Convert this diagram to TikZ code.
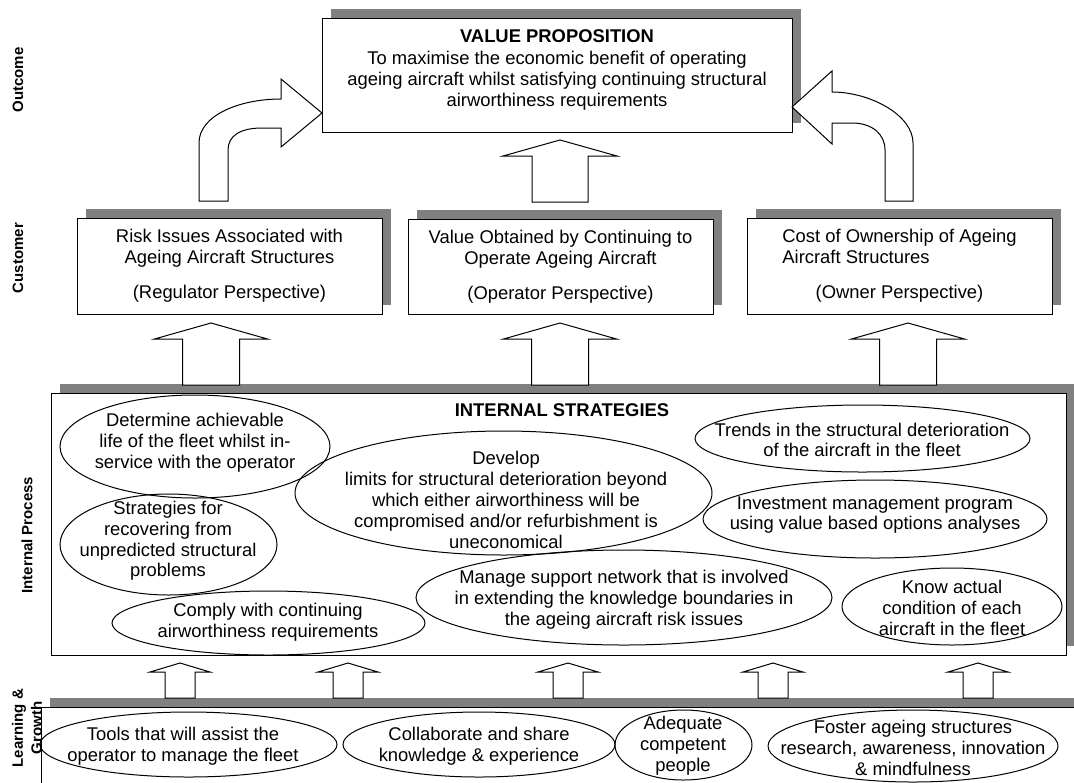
\documentclass[tikz,border=0pt]{standalone}
\usepackage{fontspec}
\setmainfont{Liberation Sans}
\usetikzlibrary{shadows,calc,shapes.geometric}
\definecolor{shgray}{RGB}{128,128,128}
\newcommand\blockup[5]{%
  \draw[blk] let \p1=(#1), \p2=(#2) in
    (\x1-#3,\y1) -- (\x1-#3,\y2-#5) -- (\x1-#4,\y2-#5) -- (\x2,\y2) --
    (\x1+#4,\y2-#5) -- (\x1+#3,\y2-#5) -- (\x1+#3,\y1) -- cycle;}
\begin{document}
\begin{tikzpicture}[x=0.5pt,y=-0.5pt,line width=0.5pt,
  every node/.style={font=\fontsize{9.2}{10.4}\selectfont},
  box/.style={draw,fill=white,rectangle,inner sep=0pt,align=center,
    drop shadow={shadow xshift=4.5pt,shadow yshift=4.5pt,opacity=1,fill=shgray}},
  txt/.style={align=center,inner sep=0pt},
  oval/.style={draw,ellipse,inner sep=0pt},
  side/.style={font=\fontsize{7.5}{9.5}\selectfont\bfseries,rotate=90,align=center,inner sep=0pt},
  blk/.style={draw,fill=white,line join=miter}]
\useasboundingbox (0,0) rectangle (1074,782);
\clip (0,0) rectangle (1074,782);

% side labels
\node[side] (lout) at (18,80) {Outcome};
\node[side] (lcus) at (18,258) {Customer};
\node[side] (lint) at (27,535) {Internal Process};

% value proposition
\node[box,minimum width=235pt,minimum height=57pt] (vp) at (557,75) {};
\node[txt] (vpt) at (557,70) {\textbf{VALUE PROPOSITION}\\[0.5pt]To maximise the economic benefit of operating\\ageing aircraft whilst satisfying continuing structural\\airworthiness requirements};

% customer boxes
\node[box,minimum width=152.5pt,minimum height=48pt] (risk) at (229.5,266)
  {Risk Issues Associated with\\Ageing Aircraft Structures\\[7pt](Regulator Perspective)};
\node[box,minimum width=152.5pt,minimum height=47.5pt] (valo) at (560.5,266.5)
  {Value Obtained by Continuing to\\Operate Ageing Aircraft\\[7pt](Operator Perspective)};
\node[box,minimum width=152.5pt,minimum height=48pt] (cost) at (899.5,266)
  {Cost of Ownership of Ageing\\\rlap{Aircraft Structures}\phantom{Cost of Ownership of Ageing}\\[7pt](Owner Perspective)};

% internal box
\node[box,minimum width=507.5pt,minimum height=131pt] (intl) at (558.5,524) {};
\node[txt] (intt) at (562,410) {\textbf{INTERNAL STRATEGIES}};

% learning box
\node[box,minimum width=550pt,minimum height=75pt] (lg) at (591,782) {};
\node[side] (llg) at (27,728) {Learning \&\\Growth};

% value arrow
\coordinate (v0) at (560,202); \coordinate (v1) at (560,140);
\blockup{v0}{v1}{14pt}{28.5pt}{8pt}

% customer arrows
\coordinate (c1b) at (211,385); \coordinate (c1t) at (211,323);
\coordinate (c2b) at (560,385); \coordinate (c2t) at (560,323);
\coordinate (c3b) at (908,385); \coordinate (c3t) at (908,323);
\blockup{c1b}{c1t}{14.25pt}{28.25pt}{8pt}
\blockup{c2b}{c2t}{14.25pt}{28.25pt}{8pt}
\blockup{c3b}{c3t}{14.25pt}{28.25pt}{8pt}

% learning arrows
\foreach \i/\xx in {1/180,2/348,3/568,4/773,5/978}{
  \coordinate (l\i b) at (\xx,698); \coordinate (l\i t) at (\xx,663);
  \blockup{l\i b}{l\i t}{7.5pt}{15pt}{4.5pt}
}

% curved arrows
\draw[blk] (199,201) -- (199,143) .. controls (199,115) and (240,99) .. (281,99)
  -- (281,79) -- (322,113) -- (281,147) -- (281,128) -- (262,128)
  .. controls (240,128) and (228,136) .. (228,150) -- (228,201) -- cycle;
\draw[blk] (913,201) -- (913,143) .. controls (913,115) and (870,92) .. (832,92)
  -- (832,71) -- (792,107) -- (832,144) -- (832,123) -- (852,123)
  .. controls (872,123) and (885,134) .. (885,150) -- (885,201) -- cycle;

% internal ellipses
\node[oval,minimum width=135pt,minimum height=51.5pt] (detE) at (195,446.5) {};
\node[txt] (det) at (195,443) {Determine achievable\\life of the fleet whilst in-\\service with the operator};
\node[oval,minimum width=108.5pt,minimum height=50.5pt] (strE) at (168.5,544.5) {};
\node[txt] (str) at (168,541) {Strategies for\\recovering from\\unpredicted structural\\problems};
\node[oval,minimum width=156.5pt,minimum height=32pt] (comE) at (268.5,623) {};
\node[txt] (com) at (268,622) {Comply with continuing\\airworthiness requirements};
\node[oval,minimum width=208.5pt,minimum height=62pt] (devE) at (503.5,493) {};
\node[txt] (dev) at (506,500) {Develop\\limits for structural deterioration beyond\\which either airworthiness will be\\compromised and/or refurbishment is\\uneconomical};
\node[oval,minimum width=167.5pt,minimum height=33.5pt] (treE) at (862.5,438.5) {};
\node[txt] (tre) at (862,440) {Trends in the structural deterioration\\of the aircraft in the fleet};
\node[oval,minimum width=172pt,minimum height=39pt] (invE) at (875,519) {};
\node[txt] (inv) at (875,515) {Investment management program\\using value based options analyses};
\node[oval,minimum width=208pt,minimum height=47.5pt] (manE) at (624,597.5) {};
\node[txt] (man) at (624,600) {Manage support network that is involved\\in extending the knowledge boundaries in\\the ageing aircraft risk issues};
\node[oval,minimum width=110pt,minimum height=38.5pt] (knoE) at (952,606.5) {};
\node[txt] (kno) at (952,608) {Know actual\\condition of each\\aircraft in the fleet};

% learning ellipses
\node[oval,minimum width=148.5pt,minimum height=32.5pt] (tooE) at (188.5,744.5) {};
\node[txt] (too) at (183,746) {Tools that will assist the\\operator to manage the fleet};
\node[oval,minimum width=136pt,minimum height=32.5pt] (colE) at (479,744.5) {};
\node[txt] (col) at (479,746) {Collaborate and share\\knowledge \& experience};
\node[oval,minimum width=68.5pt,minimum height=35pt] (adeE) at (683.5,745) {};
\node[txt] (ade) at (683,746) {Adequate\\competent\\people};
\node[oval,minimum width=145pt,minimum height=36pt] (fosE) at (913,746) {};
\node[txt] (fos) at (913,748) {Foster ageing structures\\research, awareness, innovation\\\& mindfulness};
\end{tikzpicture}
\end{document}
